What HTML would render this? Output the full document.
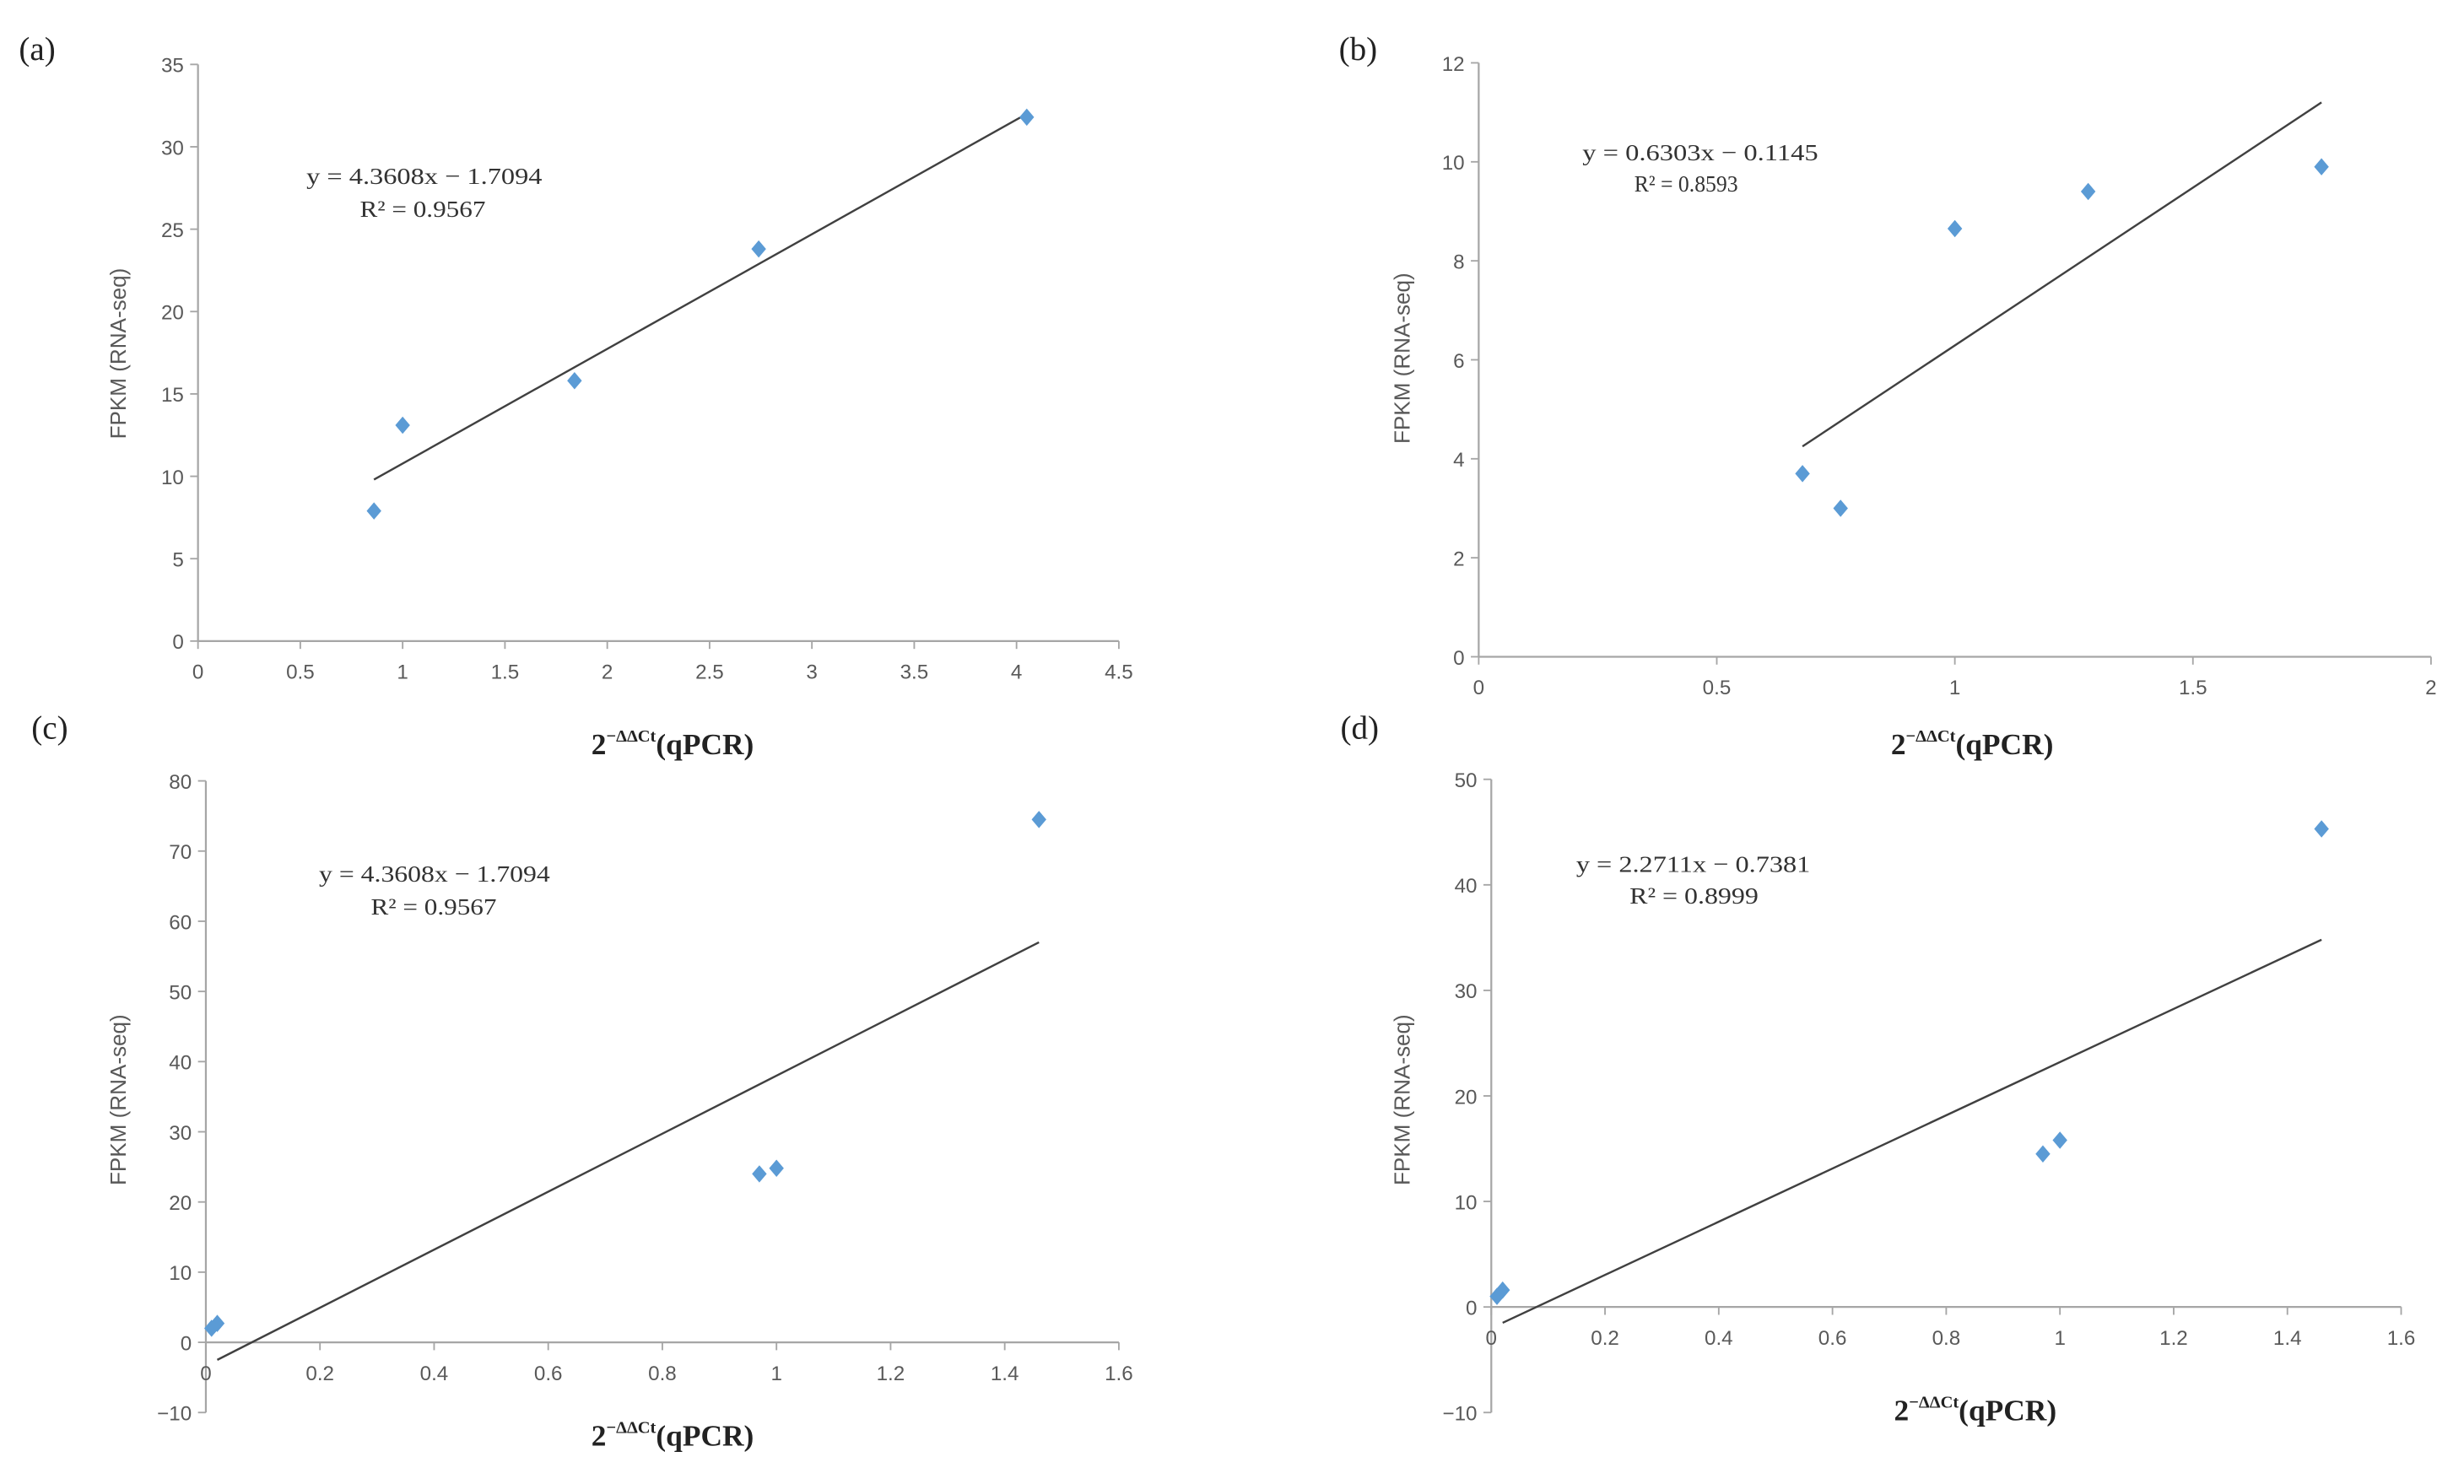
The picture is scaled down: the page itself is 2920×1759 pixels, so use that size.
<!DOCTYPE html>
<html><head><meta charset="utf-8"><style>
html,body{margin:0;padding:0;background:#fff;}
svg{display:block}
</style></head><body>
<svg id="fig" width="2920" height="1759" viewBox="0 0 1568 944.5" preserveAspectRatio="none" xmlns="http://www.w3.org/2000/svg"></svg>
<script>
// Panel (a)
const aX = [0.86, 1.0, 1.84, 2.74, 4.05];
const aY = [7.9, 13.1, 15.8, 23.8, 31.8];
const aLineX = [0.86, 4.05];
const aLineY = [9.8, 32.0];
const aXTicks = [0, 0.5, 1, 1.5, 2, 2.5, 3, 3.5, 4, 4.5];
const aYTicks = [0, 5, 10, 15, 20, 25, 30, 35];
// Panel (b)
const bX = [0.68, 0.76, 1.0, 1.28, 1.77];
const bY = [3.7, 3.0, 8.65, 9.4, 9.9];
const bLineX = [0.68, 1.77];
const bLineY = [4.25, 11.2];
const bXTicks = [0, 0.5, 1, 1.5, 2];
const bYTicks = [0, 2, 4, 6, 8, 10, 12];
// Panel (c)
const cX = [0.01, 0.02, 0.97, 1.0, 1.46];
const cY = [2.0, 2.7, 24.0, 24.8, 74.5];
const cLineX = [0.02, 1.46];
const cLineY = [-2.5, 57.0];
const cXTicks = [0, 0.2, 0.4, 0.6, 0.8, 1, 1.2, 1.4, 1.6];
const cYTicks = [-10, 0, 10, 20, 30, 40, 50, 60, 70, 80];
// Panel (d)
const dX = [0.01, 0.02, 0.97, 1.0, 1.46];
const dY = [1.0, 1.6, 14.5, 15.8, 45.3];
const dLineX = [0.02, 1.46];
const dLineY = [-1.5, 34.8];
const dXTicks = [0, 0.2, 0.4, 0.6, 0.8, 1, 1.2, 1.4, 1.6];
const dYTicks = [-10, 0, 10, 20, 30, 40, 50];

const NS = "http://www.w3.org/2000/svg";
const svg = document.getElementById('fig');
function mk(tag, attrs, parent, text){
  const e = document.createElementNS(NS, tag);
  for (const k in attrs) e.setAttribute(k, attrs[k]);
  if (text !== undefined) e.textContent = text;
  (parent || svg).appendChild(e);
  return e;
}
const panels = [
  {id:'a', X:aX, Y:aY, LX:aLineX, LY:aLineY, xt:aXTicks, yt:aYTicks, px0:126, px1:712, py0:408, py1:41, ymin:0, ymax:35, label:[12,38],
   eq:['y = 4.3608x  − 1.7094', 195, 117, 150], r2:['R² = 0.9567', 229, 138, 80], ytitle:[80,225], xtitle:[428,480]},
  {id:'b', X:bX, Y:bY, LX:bLineX, LY:bLineY, xt:bXTicks, yt:bYTicks, px0:941, px1:1547, py0:418, py1:40, ymin:0, ymax:12, label:[852,38],
   eq:['y = 0.6303x  − 0.1145', 1007, 102, 150], r2:['R² = 0.8593', 1040, 122, 66], ytitle:[897,228], xtitle:[1255,480]},
  {id:'c', X:cX, Y:cY, LX:cLineX, LY:cLineY, xt:cXTicks, yt:cYTicks, px0:131, px1:712, py0:899, py1:497, ymin:-10, ymax:80, label:[20,470],
   eq:['y = 4.3608x  − 1.7094', 203, 561, 147], r2:['R² = 0.9567', 236, 582, 80], ytitle:[80,700], xtitle:[428,920], xaxisAt0:true},
  {id:'d', X:dX, Y:dY, LX:dLineX, LY:dLineY, xt:dXTicks, yt:dYTicks, px0:949, px1:1528, py0:899, py1:496, ymin:-10, ymax:50, label:[853,470],
   eq:['y = 2.2711x  − 0.7381', 1003, 555, 149], r2:['R² = 0.8999', 1037, 575, 82], ytitle:[897,700], xtitle:[1257,904], xaxisAt0:true}
];
panels.forEach(p => {
  const g = mk('g', {});
  
  
  const xmin = p.xt[0], xmax = p.xt[p.xt.length-1];
  const sx = v => p.px0 + (v - xmin) / (xmax - xmin) * (p.px1 - p.px0);
  const sy = v => p.py0 + (v - p.ymin) / (p.ymax - p.ymin) * (p.py1 - p.py0);
  const xAxisY = p.xaxisAt0 ? sy(0) : p.py0;
  const ya = mk('line', {x1:p.px0, x2:p.px0, y1:p.py0, y2:p.py1, stroke:'#a6a6a6', 'stroke-width':1.2}, g);
  
  
  p.yt.forEach(t => {
    mk('line', {x1:p.px0-5, x2:p.px0, y1:sy(t), y2:sy(t), stroke:'#a6a6a6', 'stroke-width':1}, g);
    const tl = mk('text', {x:p.px0-9, y:sy(t)+5, 'text-anchor':'end', 'font-family':'Liberation Sans, sans-serif', 'font-size':13, fill:'#595959'}, g, String(t).replace('-', '−'));
    
    
  });
  const xa = mk('line', {x1:p.px0, x2:p.px1, y1:xAxisY, y2:xAxisY, stroke:'#a6a6a6', 'stroke-width':1.2}, g);
  
  
  p.xt.forEach(t => {
    mk('line', {x1:sx(t), x2:sx(t), y1:xAxisY, y2:xAxisY+5, stroke:'#a6a6a6', 'stroke-width':1}, g);
    const tl = mk('text', {x:sx(t), y:xAxisY+24, 'text-anchor':'middle', 'font-family':'Liberation Sans, sans-serif', 'font-size':13, fill:'#595959'}, g, String(t));
    
    
  });
  const tr = mk('line', {x1:sx(p.LX[0]), y1:sy(p.LY[0]), x2:sx(p.LX[1]), y2:sy(p.LY[1]), stroke:'#404040', 'stroke-width':1.3}, g);
  
  
  p.X.forEach((x, i) => {
    const cx = sx(x), cy = sy(p.Y[i]), r = 5.5;
    const pt = mk('polygon', {points:`${cx},${cy-r} ${cx+r*0.85},${cy} ${cx},${cy+r} ${cx-r*0.85},${cy}`, fill:'#5b9bd5'}, g);
    
    
  });
  const lb = mk('text', {x:p.label[0], y:p.label[1], 'font-family':'Liberation Serif, serif', 'font-size':21, fill:'#222'}, g, '(' + p.id + ')');
  
  
  const eq = mk('text', {x:p.eq[1], y:p.eq[2], textLength:p.eq[3], lengthAdjust:'spacingAndGlyphs', 'font-family':'Liberation Serif, serif', 'font-size':15, fill:'#333'}, g, p.eq[0]);
  
  
  const r2 = mk('text', {x:p.r2[1], y:p.r2[2], textLength:p.r2[3], lengthAdjust:'spacingAndGlyphs', 'font-family':'Liberation Serif, serif', 'font-size':15, fill:'#333'}, g, p.r2[0]);
  
  
  const yt = mk('text', {x:p.ytitle[0], y:p.ytitle[1], 'text-anchor':'middle', transform:`rotate(-90 ${p.ytitle[0]} ${p.ytitle[1]})`, 'font-family':'Liberation Sans, sans-serif', 'font-size':14, fill:'#595959'}, g, 'FPKM (RNA-seq)');
  
  
  const xt = mk('text', {x:p.xtitle[0], y:p.xtitle[1], 'text-anchor':'middle', 'font-family':'Liberation Serif, serif', 'font-size':19, 'font-weight':'bold', fill:'#222'}, g);
  
  
  mk('tspan', {}, xt, '2');
  mk('tspan', {'font-size':11, dy:-8}, xt, '−ΔΔCt');
  mk('tspan', {dy:8}, xt, '(qPCR)');
});
</script>
</body></html>
